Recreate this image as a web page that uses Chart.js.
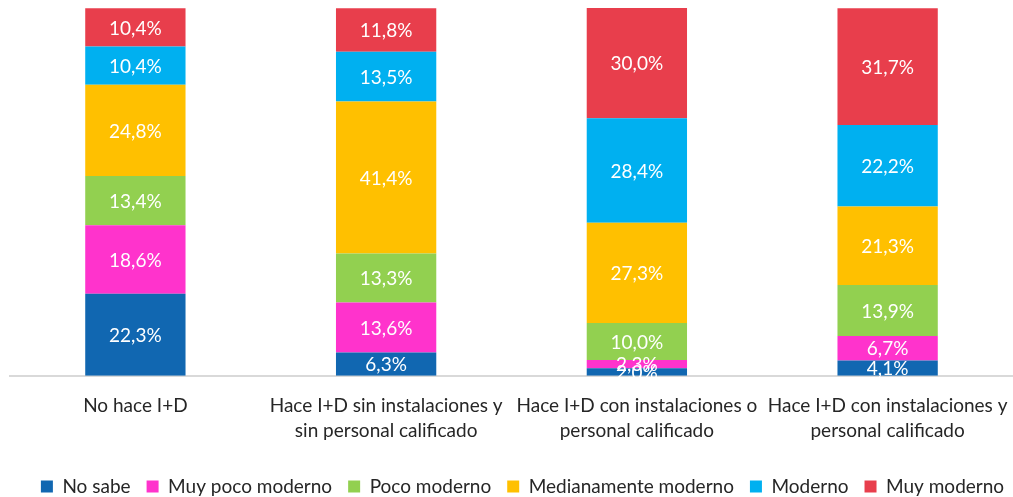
<!DOCTYPE html>
<html>
<head>
<meta charset="utf-8">
<script src="https://cdn.jsdelivr.net/npm/chart.js@4/dist/chart.umd.min.js"></script>
<style>
    html, body { margin: 0; padding: 0; background: #fff; }
    #wrap { width: 1013px; height: 497px; }
</style>
</head>
<body>
<div id="wrap"><canvas id="chart" width="1013" height="497"></canvas></div>
<script>
// Categories (x axis)
const categories = [
    'No hace I+D',
    ['Hace I+D sin instalaciones y', 'sin personal calificado'],
    ['Hace I+D con instalaciones o', 'personal calificado'],
    ['Hace I+D con instalaciones y', 'personal calificado']
];

// Series, bottom to top (percent)
const noSabe = [22.3, 6.3, 2.0, 4.1];
const muyPocoModerno = [18.6, 13.6, 2.3, 6.7];
const pocoModerno = [13.4, 13.3, 10.0, 13.9];
const medianamenteModerno = [24.8, 41.4, 27.3, 21.3];
const moderno = [10.4, 13.5, 28.4, 22.2];
const muyModerno = [10.4, 11.8, 30.0, 31.7];

const seriesNames = ['No sabe', 'Muy poco moderno', 'Poco moderno', 'Medianamente moderno', 'Moderno', 'Muy moderno'];
const seriesValues = [noSabe, muyPocoModerno, pocoModerno, medianamenteModerno, moderno, muyModerno];
const seriesColors = ['#1167b1', '#ff33cc', '#92d050', '#ffc000', '#00b0f0', '#e83e4c'];

const fontFamily = 'Lato, "Open Sans", "Noto Sans", sans-serif';

// draws the white value labels in the middle of each segment
const segmentLabels = {
    id: 'segmentLabels',
    afterDatasetsDraw(chart) {
        const ctx = chart.ctx;
        ctx.save();
        ctx.fillStyle = '#ffffff';
        ctx.font = '19px ' + fontFamily;
        ctx.textAlign = 'center';
        ctx.textBaseline = 'middle';
        chart.data.datasets.forEach((ds, i) => {
            const meta = chart.getDatasetMeta(i);
            meta.data.forEach((bar, j) => {
                const v = ds.data[j];
                const y = (bar.y + bar.base) / 2;
                ctx.fillText(v.toFixed(1).replace('.', ',') + '%', bar.x, y + 1);
            });
        });
        ctx.restore();
    }
};

// the legend in the original sits a little right of centre
const legendShift = {
    id: 'legendShift',
    afterLayout(chart) {
        if (chart.legend) {
            chart.legend.left += 11;
            chart.legend.right += 11;
        }
    }
};

new Chart(document.getElementById('chart'), {
    type: 'bar',
    data: {
        labels: categories,
        datasets: seriesNames.map((name, i) => ({
            label: name,
            data: seriesValues[i],
            backgroundColor: seriesColors[i],
            borderWidth: 0,
            categoryPercentage: 1,
            barPercentage: 0.4
        }))
    },
    options: {
        responsive: false,
        animation: false,
        layout: { padding: { left: 10, right: 0, top: 8, bottom: -9 } },
        scales: {
            x: {
                stacked: true,
                grid: { display: false, drawTicks: false },
                border: { color: '#d9d9d9', width: 2 },
                ticks: {
                    color: '#262626',
                    font: { family: fontFamily, size: 19, lineHeight: 1.35 },
                    padding: 17,
                    maxRotation: 0,
                    autoSkip: false
                },
                // keep the plot full width even if the last label is wide
                afterFit(scale) {
                    scale.paddingLeft = 0;
                    scale.paddingRight = 0;
                }
            },
            y: {
                stacked: true,
                display: false,
                min: 0,
                max: 100
            }
        },
        plugins: {
            legend: {
                position: 'bottom',
                labels: {
                    color: '#262626',
                    font: { family: fontFamily, size: 19 },
                    boxWidth: 12,
                    boxHeight: 12,
                    padding: 16
                }
            },
            tooltip: { enabled: false }
        }
    },
    plugins: [segmentLabels, legendShift]
});
</script>
</body>
</html>
